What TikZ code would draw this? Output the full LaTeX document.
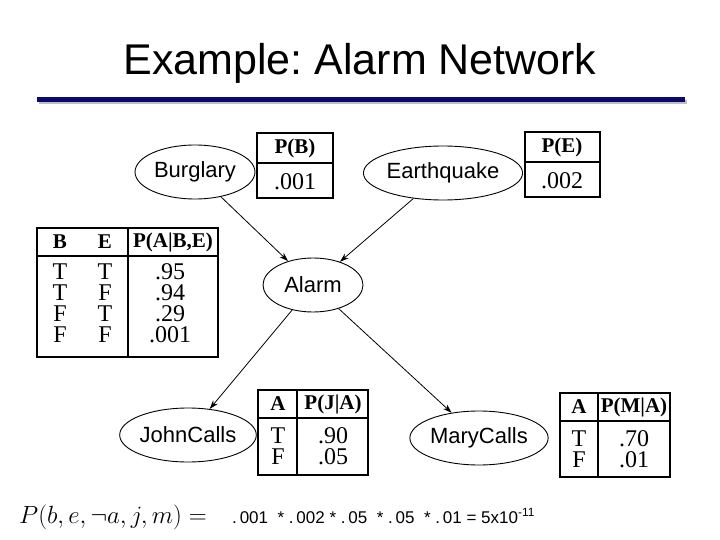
\documentclass[tikz,border=0pt]{standalone}
\usepackage{fontspec}
\setmainfont{Liberation Serif}
\newfontfamily\arial{Liberation Sans}
\usetikzlibrary{shapes.geometric,arrows.meta}
\frenchspacing
\begin{document}
\begin{tikzpicture}[x=1pt,y=-1pt,
  var/.style={ellipse,draw,line width=0.9pt,minimum width=#1,minimum height=54pt,inner sep=0pt,font=\arial\fontsize{22}{22}\selectfont},
  tb/.style={draw,line width=1.2pt},
  hl/.style={line width=2.2pt},
  cell/.style={font=\fontsize{24}{21}\selectfont,inner sep=0pt},
  hcell/.style={font=\bfseries\fontsize{21}{21}\selectfont,inner sep=0pt},
  arr/.style={-{Stealth[length=9pt,width=6pt]},line width=0.8pt}]
\useasboundingbox (0,0) rectangle (720,540);
\node[font=\arial\fontsize{43}{43}\selectfont] (title) at (360,63) {Example: Alarm Network};
\fill[gray!50] (39,100) rectangle (687,104);
\fill[fill={rgb,255:red,10;green,10;blue,110}] (37,97) rectangle (685,102);

\node[var=120pt] (B) at (195,172) {Burglary};
\node[var=150pt] (E) at (443,173) {Earthquake};
\node[var=100pt] (A) at (313,285) {Alarm};
\node[var=128pt] (J) at (188,435) {JohnCalls};
\node[var=134pt] (M) at (479,438) {MaryCalls};
\draw[arr] (B) -- (A);
\draw[arr] (E) -- (A);
\draw[arr] (A) -- (J);
\draw[arr] (A) -- (M);

% P(B)
\draw[tb] (257,133) rectangle (333,198);
\draw[hl] (257,163) -- (333,163);
\node[hcell] (pb) at (295,148) {P(B)};
\node[cell] (pbv) at (295,182) {.001};
% P(E)
\draw[tb] (525,132) rectangle (600,197);
\draw[hl] (525,162) -- (600,162);
\node[hcell] (pe) at (562,147) {P(E)};
\node[cell] (pev) at (562,181) {.002};
% P(A|B,E)
\draw[tb] (37,228) rectangle (218,357);
\draw[hl] (37,256) -- (218,256);
\draw[tb] (128,228) -- (128,357);
\node[hcell] (hb) at (60,242) {B};
\node[hcell] (he) at (105,242) {E};
\node[hcell] (hp) at (173,242) {P(A|B,E)};
\node[cell,align=center] (cb) at (60,303) {T\\T\\F\\F};
\node[cell,align=center] (ce) at (105,303) {T\\F\\T\\F};
\node[cell,align=center] (cp) at (170,303) {.95\\.94\\.29\\.001};
% P(J|A)
\draw[tb] (258,390) rectangle (368,475);
\draw[hl] (258,418) -- (368,418);
\draw[tb] (297,390) -- (297,475);
\node[hcell] (ja) at (278,404) {A};
\node[hcell] (jp) at (333,404) {P(J|A)};
\node[cell,align=center] (jt) at (278,446) {T\\F};
\node[cell,align=center] (jv) at (333,446) {.90\\.05};
% P(M|A)
\draw[tb] (560,393) rectangle (670,477);
\draw[hl] (560,421) -- (670,421);
\draw[tb] (598,393) -- (598,477);
\node[hcell] (ma) at (579,407) {A};
\node[hcell] (mp) at (634,407) {P(M|A)};
\node[cell,align=center] (mt) at (579,449) {T\\F};
\node[cell,align=center] (mv) at (634,449) {.70\\.01};

\node[anchor=west,inner sep=0pt,font=\fontsize{30}{30}\selectfont] (f) at (19,517) {$P(b,e,\neg a,j,m) =$};
\node[anchor=west,inner sep=0pt,font=\arial\fontsize{17}{17}\selectfont] (g) at (232,516) {.\,001 \ * .\,002 * .\,05 \ * .\,05 \ * .\,01 = 5x10\textsuperscript{-11}};
\end{tikzpicture}
\end{document}
